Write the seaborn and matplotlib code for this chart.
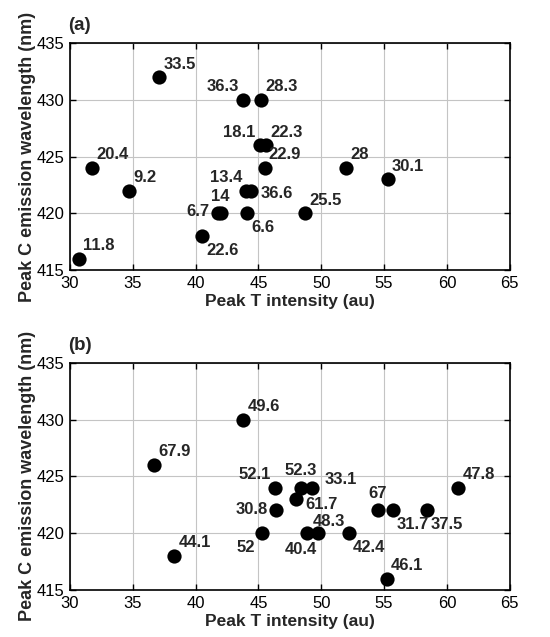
import matplotlib
matplotlib.use("Agg")
import matplotlib.pyplot as plt
import pandas as pd
import seaborn as sns

# panel (a): peak T intensity, peak C wavelength, label value
A_INTENSITY = [30.7, 31.8, 34.7, 37.1, 43.8, 45.2, 45.1, 45.6, 45.5, 44.05, 44.4,
               42.0, 41.8, 44.1, 40.5, 48.7, 52.0, 55.3]
A_WAVELENGTH = [416, 424, 422, 432, 430, 430, 426, 426, 424, 422, 422,
                420, 420, 420, 418, 420, 424, 423]
A_LABELS = ["11.8", "20.4", "9.2", "33.5", "36.3", "28.3", "18.1", "22.3", "22.9", "13.4", "36.6",
            "14", "6.7", "6.6", "22.6", "25.5", "28", "30.1"]

# panel (b)
B_INTENSITY = [43.8, 36.7, 46.3, 48.4, 49.3, 48.0, 46.4, 45.3, 48.9, 49.75,
               52.2, 54.5, 55.7, 58.4, 60.9, 55.2, 38.3]
B_WAVELENGTH = [430, 426, 424, 424, 424, 423, 422, 420, 420, 420,
                420, 422, 422, 422, 424, 416, 418]
B_LABELS = ["49.6", "67.9", "52.1", "52.3", "33.1", "61.7", "30.8", "52", "40.4", "48.3",
            "42.4", "67", "31.7", "37.5", "47.8", "46.1", "44.1"]

# where each label sits relative to its marker
A_PLACE = ["ur", "ur", "ur", "ur", "ul", "ur", "ul", "ur", "ur", "ul", "r",
           "u", "l", "lr", "lr", "ur", "ur", "ur"]
B_PLACE = ["ur", "ur", "ul", "u", "r2", "r3", "l", "ll", "dl", "u2",
           "lr", "u", "lr", "lr", "ur", "ur", "ur"]

PLACES = {
    "ur": (3, 4, "left", "bottom"),
    "ul": (-3, 4, "right", "bottom"),
    "u": (0, 7, "center", "bottom"),
    "u2": (-4, 3, "left", "bottom"),
    "r": (7, -2, "left", "center"),
    "r2": (9, 6, "left", "center"),
    "r3": (7, -4, "left", "center"),
    "l": (-6, 1, "right", "center"),
    "lr": (3, -5, "left", "top"),
    "ll": (-5, -5, "right", "top"),
    "dl": (7, -6, "right", "top"),
}

sns.set_style("whitegrid")
plt.rcParams["font.family"] = ["Liberation Sans", "DejaVu Sans"]

fig = plt.figure(figsize=(5.5, 6.37), dpi=100)
ax_a = fig.add_axes([0.127, 0.576, 0.8, 0.3565])
ax_b = fig.add_axes([0.127, 0.0738, 0.8, 0.3568])


def DrawPanel(ax, xs, ys, labels, places, tag):
    df = pd.DataFrame({"x": xs, "y": ys})
    sns.scatterplot(data=df, x="x", y="y", ax=ax, color="black", s=105,
                    linewidth=0, zorder=3)
    for x, y, lab, pl in zip(xs, ys, labels, places):
        dx, dy, ha, va = PLACES[pl]
        ax.annotate(lab, (x, y), xytext=(dx, dy), textcoords="offset points",
                    ha=ha, va=va, fontsize=12, fontweight="bold", zorder=4)
    ax.set_xlim(30, 65)
    ax.set_ylim(415, 435)
    ax.set_xticks(range(30, 66, 5))
    ax.set_yticks(range(415, 436, 5))
    ax.grid(True, color="#c4c4c4", linewidth=0.8)
    for s in ax.spines.values():
        s.set_color("black")
        s.set_linewidth(1.2)
    ax.tick_params(direction="in", length=4, width=1, top=True, right=True,
                   bottom=True, left=True, labelsize=12, colors="black")
    ax.tick_params(axis="x", pad=4.5)
    ax.tick_params(axis="y", pad=4)
    ax.set_xlabel("Peak T intensity (au)", fontsize=12.5, fontweight="bold", labelpad=2)
    ax.set_ylabel("Peak C emission wavelength (nm)", fontsize=13, fontweight="bold", labelpad=0)
    ax.text(-0.005, 1.04, tag, transform=ax.transAxes, fontsize=13.5, fontweight="bold",
            ha="left", va="bottom")


DrawPanel(ax_a, A_INTENSITY, A_WAVELENGTH, A_LABELS, A_PLACE, "(a)")
DrawPanel(ax_b, B_INTENSITY, B_WAVELENGTH, B_LABELS, B_PLACE, "(b)")

fig.savefig("out.png", dpi=100, facecolor="white")
